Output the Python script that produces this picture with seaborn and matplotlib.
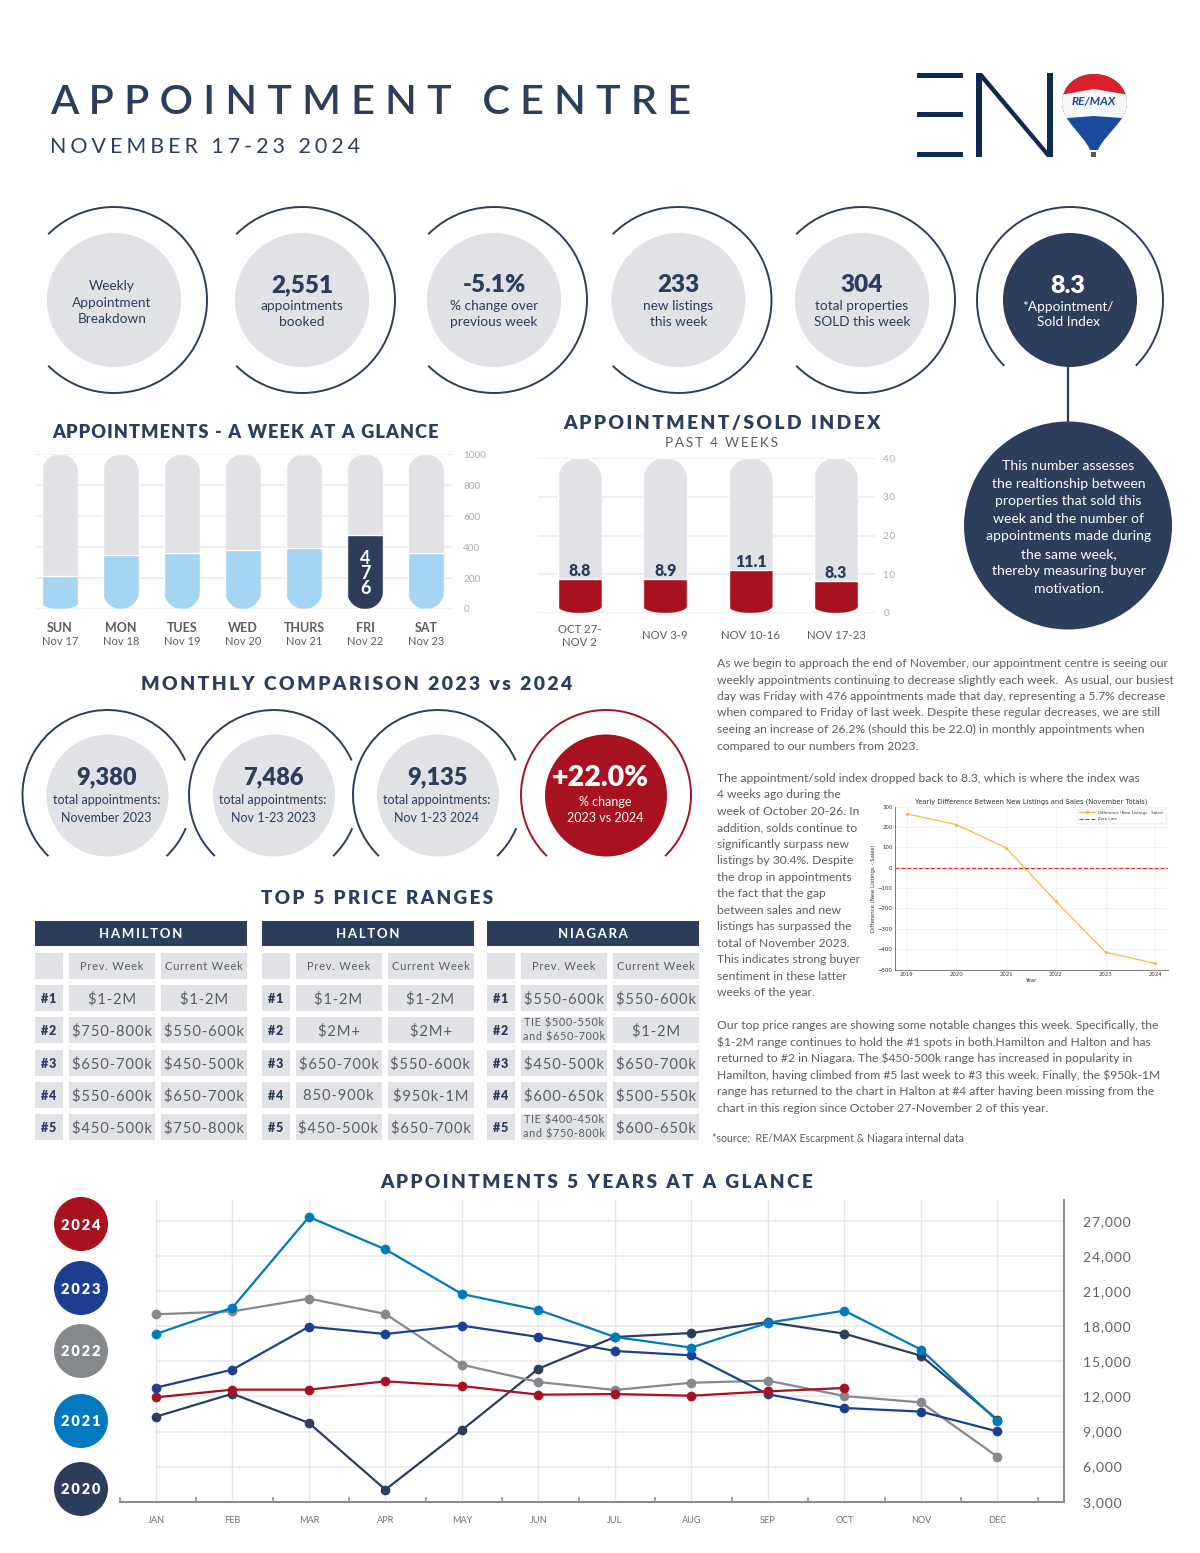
import numpy as np
import pandas as pd
import seaborn as sns
import matplotlib.pyplot as plt
from matplotlib.patches import Arc, Circle, Polygon, Rectangle, PathPatch
from matplotlib.path import Path

# Data

week_days = ['SUN', 'MON', 'TUES', 'WED', 'THURS', 'FRI', 'SAT']
week_dates = ['Nov 17', 'Nov 18', 'Nov 19', 'Nov 20', 'Nov 21', 'Nov 22', 'Nov 23']
week_appts = [213, 349, 364, 384, 392, 476, 362]
week_scale = [1000] * 7
week_ticks = [0, 200, 400, 600, 800, 1000]

index_weeks = ['OCT 27-\nNOV 2', 'NOV 3-9', 'NOV 10-16', 'NOV 17-23']
index_vals = [8.8, 8.9, 11.1, 8.3]
index_scale = [40] * 4
index_ticks = [0, 10, 20, 30, 40]

months = ['JAN', 'FEB', 'MAR', 'APR', 'MAY', 'JUN', 'JUL', 'AUG', 'SEP', 'OCT', 'NOV', 'DEC']
appts_2020 = [10270, 12230, 9730, 4030, 9130, 14370, 17080, 17420, 18360, 17360, 15480, 10010]
appts_2021 = [17335, 19590, 27340, 24570, 20750, 19390, 17080, 16170, 18300, 19330, 16000, 9900]
appts_2022 = [19020, 19270, 20360, 19050, 14710, 13230, 12550, 13170, 13350, 12030, 11490, 6850]
appts_2023 = [12750, 14290, 17960, 17335, 18050, 17080, 15880, 15510, 12180, 11010, 10700, 9010]
appts_2024 = [11920, 12580, 12580, 13290, 12890, 12150, 12200, 12060, 12430, 12720]
year_ticks = [3000, 6000, 9000, 12000, 15000, 18000, 21000, 24000, 27000]

diff_years = [2019, 2020, 2021, 2022, 2023, 2024]
diff_vals = [265, 212, 98, -165, -415, -470]

table_regions = ['HAMILTON', 'HALTON', 'NIAGARA']
table_prev = [
    ['$1-2M', '$750-800k', '$650-700k', '$550-600k', '$450-500k'],
    ['$1-2M', '$2M+', '$650-700k', '850-900k', '$450-500k'],
    ['$550-600k', 'TIE $500-550k\nand $650-700k', '$450-500k', '$600-650k', 'TIE $400-450k\nand $750-800k'],
]
table_curr = [
    ['$1-2M', '$550-600k', '$450-500k', '$650-700k', '$750-800k'],
    ['$1-2M', '$2M+', '$550-600k', '$950k-1M', '$650-700k'],
    ['$550-600k', '$1-2M', '$650-700k', '$500-550k', '$600-650k'],
]

para_1 = [
    'As we begin to approach the end of November, our appointment centre is seeing our',
    'weekly appointments continuing to decrease slightly each week.  As usual, our busiest',
    'day was Friday with 476 appointments made that day, representing a 5.7% decrease',
    'when compared to Friday of last week. Despite these regular decreases, we are still',
    'seeing an increase of 26.2% (should this be 22.0) in monthly appointments when',
    'compared to our numbers from 2023.',
]
para_2 = [
    'The appointment/sold index dropped back to 8.3, which is where the index was',
    '4 weeks ago during the',
    'week of October 20-26. In',
    'addition, solds continue to',
    'significantly surpass new',
    'listings by 30.4%. Despite',
    'the drop in appointments',
    'the fact that the gap',
    'between sales and new',
    'listings has surpassed the',
    'total of November 2023.',
    'This indicates strong buyer',
    'sentiment in these latter',
    'weeks of the year.',
]
para_3 = [
    'Our top price ranges are showing some notable changes this week. Specifically, the',
    '$1-2M range continues to hold the #1 spots in both.Hamilton and Halton and has',
    'returned to #2 in Niagara. The $450-500k range has increased in popularity in',
    'Hamilton, having climbed from #5 last week to #3 this week. Finally, the $950k-1M',
    'range has returned to the chart in Halton at #4 after having been missing from the',
    'chart in this region since October 27-November 2 of this year.',
]
motivation = [
    'This number assesses', 'the realtionship between', 'properties that sold this',
    'week and the number of', 'appointments made during', 'the same week,',
    'thereby measuring buyer', 'motivation.',
]

# Colours

NAVY = '#2d3e5c'
PALE = '#e0e2e6'
RED = '#a8111f'
SKY = '#a5d5f2'
GRID = '#eef0f2'
TEXT = '#5a5d63'
LOGO = '#0f2a52'
year_colors = {'2020': NAVY, '2021': '#0079bf', '2022': '#85898d', '2023': '#1c3f94', '2024': RED}

THIN = '\u2009'
HAIR = '\u200a'

sns.set_theme(style='white')
plt.rcParams['font.family'] = ['Lato', 'DejaVu Sans']

W, H = 1200, 1553
fig = plt.figure(figsize=(W / 100, H / 100), dpi=100, facecolor='white')

# Page layer in pixel coordinates

page = fig.add_axes([0, 0, 1, 1])
page.set_xlim(0, W)
page.set_ylim(H, 0)
page.axis('off')


def axes_px(left, top, right, bottom):
    ax = fig.add_axes([left / W, 1 - bottom / H, (right - left) / W, (bottom - top) / H])
    ax.patch.set_alpha(0)
    return ax


def say(x, y, s, size=10, color=TEXT, weight='normal', ha='center', **kw):
    return page.text(x, y + 1, s, fontsize=size, color=color, weight=weight, ha=ha, va='center',
                     parse_math=False, **kw)


def spaced(s, sep=THIN):
    return sep.join(s)


def heading(x0, x1, y, s, sep=THIN, weight='heavy', color=NAVY, size=13):
    # scale the tracked text so it fills the same width as the original
    t = say(x0, y, spaced(s, sep), size=size, color=color, weight=weight, ha='left')
    for _ in range(2):
        w = t.get_window_extent(fig.canvas.get_renderer()).width
        t.set_fontsize(t.get_fontsize() * (x1 - x0) / w)
    return t


def arc(cx, cy, r, a1, a2, color=NAVY, lw=1.4):
    # angles read the usual way on screen, y axis of the page runs downward
    page.add_patch(Arc((cx, cy), 2 * r, 2 * r, theta1=-a2, theta2=-a1, color=color, lw=lw))


def disc(cx, cy, r, color=PALE):
    page.add_patch(Circle((cx, cy), r, color=color, lw=0))


def pill_clip(ax, bar, top, r_bottom_px):
    # capsule clip for one seaborn bar, round top and softer bottom
    x0, w = bar.get_x(), bar.get_width()
    pts = ax.transData.transform([(x0, 0), (x0 + w, 1)])
    px_w = pts[1, 0] - pts[0, 0]
    per_px = 1 / (pts[1, 1] - pts[0, 1])
    ry_top = px_w / 2 * per_px
    ry_bot = r_bottom_px * per_px
    t = np.linspace(0, np.pi, 40)
    xs = np.r_[x0 + w / 2 + w / 2 * np.cos(t), x0 + w / 2 + w / 2 * np.cos(t + np.pi)]
    ys = np.r_[top - ry_top + ry_top * np.sin(t), ry_bot + ry_bot * np.sin(t + np.pi)]
    clip = Polygon(np.c_[xs, ys], transform=ax.transData)
    bar.set_clip_path(clip)


# Header

heading(50, 692, 101, 'APPOINTMENT CENTRE', sep=THIN + THIN, weight='semibold', size=28)
heading(50, 360, 146, 'NOVEMBER 17-23 2024', sep=THIN + HAIR, weight='normal', size=15)

# Logo

for y in [75.8, 114.5, 154.5]:
    page.add_patch(Rectangle((917, y - 2.5), 46, 5, color=LOGO, lw=0))
page.add_patch(Rectangle((976, 73), 5.5, 84, color=LOGO, lw=0))
page.add_patch(Rectangle((1047, 73), 5.5, 84, color=LOGO, lw=0))
page.add_patch(Polygon([(976, 73), (982, 73), (1052.5, 157), (1047, 157)], color=LOGO, lw=0))
balloon = Path(
    [(1094, 74), (1112, 74), (1127, 86), (1127, 103), (1127, 121), (1104, 135), (1098, 150),
     (1090, 150), (1084, 135), (1062, 121), (1062, 103), (1062, 86), (1076, 74), (1094, 74)],
    [Path.MOVETO] + [Path.CURVE4] * 6 + [Path.LINETO] + [Path.CURVE4] * 6)
page.add_patch(PathPatch(balloon, color='#1c4a9c', lw=0))
white = Polygon([(1055, 88), (1094, 88), (1135, 88), (1135, 119), (1094, 116), (1055, 119)], color='#f6f7f9', lw=0)
page.add_patch(white)
white.set_clip_path(PathPatch(balloon, transform=page.transData))
top_red = Polygon([(1055, 70), (1135, 70), (1135, 96), (1094, 89), (1055, 96)], color='#d8202f', lw=0)
page.add_patch(top_red)
top_red.set_clip_path(PathPatch(balloon, transform=page.transData))
say(1094, 101, 'RE/MAX', size=8.6, color='#1c4a9c', weight='bold', style='italic')
page.add_patch(Rectangle((1091, 152), 5, 5, color='#555555', lw=0))

# Top row of circles

kpis = [
    (114, None, ['Weekly', 'Appointment', 'Breakdown']),
    (302, '2,551', ['appointments', 'booked']),
    (494, '-5.1%', ['% change over', 'previous week']),
    (678.5, '233', ['new listings', 'this week']),
    (862, '304', ['total properties', 'SOLD this week']),
]
for cx, big, lines in kpis:
    disc(cx, 300, 67)
    arc(cx, 300, 93, -135, 135)
    if big is None:
        for y, s in zip([285, 302, 318], lines):
            say(cx - 2, y, s, size=9.8, color=NAVY)
    else:
        say(cx, 284, big, size=17.5, color=NAVY, weight='heavy')
        for y, s in zip([305, 321], lines):
            say(cx, y, s, size=9.8, color=NAVY)

disc(1070, 300, 67, NAVY)
arc(1070, 300, 93, -45, 225)
say(1068, 285, '8.3', size=18, color='white', weight='heavy')
say(1068, 306, '*Appointment/', size=9.8, color='white')
say(1068, 321, 'Sold Index', size=9.8, color='white')
page.plot([1068, 1068], [366, 424], color=NAVY, lw=1.6)
disc(1068, 525.5, 104, NAVY)
for y, s in zip(np.linspace(465, 588, len(motivation)), motivation):
    say(1068.5, y, s, size=10.1, color='white')

# Week at a glance

heading(52, 438, 431, 'APPOINTMENTS - A WEEK AT A GLANCE', sep=HAIR)

ax = axes_px(35, 454.3, 453, 609)
sns.barplot(x=week_days, y=week_scale, color=PALE, saturation=1, width=0.59, ax=ax)
sns.barplot(x=week_days, y=week_appts, hue=week_days, legend=False, saturation=1, width=0.59,
            palette=[NAVY if v == max(week_appts) else SKY for v in week_appts], ax=ax)
ax.set_xlim(-0.41, 6.44)
ax.set_ylim(0, 1000)
ax.set_yticks(week_ticks)
ax.yaxis.tick_right()
ax.tick_params(axis='y', length=0, pad=7.5, labelsize=7.2, labelcolor='#a9abaf')
ax.tick_params(axis='x', length=0, pad=9.5, labelsize=9, labelcolor=TEXT)
for lab in ax.get_xticklabels():
    lab.set_fontweight('bold')
ax.yaxis.grid(True, color=GRID, lw=1.5)
ax.set_axisbelow(True)
sns.despine(ax=ax, left=True, right=True, top=True, bottom=True)
for i, bar in enumerate(ax.patches):
    pill_clip(ax, bar, 1000, 6 if i % 7 == 0 else 18)
for i, d in enumerate(week_dates):
    ax.annotate(d, (i, 0), xycoords=('data', 'axes fraction'), xytext=(0, -23.3), textcoords='offset points',
                ha='center', va='center', fontsize=8, color=TEXT)
ax.text(5, 230, '4\n7\n6', ha='center', va='center', color='white', weight='bold', fontsize=13,
        linespacing=0.85)

# Appointment/Sold index

heading(563, 880, 423, 'APPOINTMENT/SOLD INDEX', sep=THIN)
heading(665, 778, 442, 'PAST 4 WEEKS', sep=THIN, weight='normal', size=9, color=TEXT)

ax = axes_px(538, 458, 875, 613)
sns.barplot(x=index_weeks, y=index_scale, color=PALE, saturation=1, width=0.515, ax=ax)
sns.barplot(x=index_weeks, y=index_vals, color=RED, saturation=1, width=0.515, ax=ax)
ax.set_xlim(-0.49, 3.457)
ax.set_ylim(0, 40)
ax.set_yticks(index_ticks)
ax.set_yticklabels([spaced(str(v), HAIR) for v in index_ticks])
ax.yaxis.tick_right()
ax.tick_params(axis='y', length=0, pad=6, labelsize=7.2, labelcolor='#a9abaf')
ax.tick_params(axis='x', length=0, pad=16.5, labelsize=8.2, labelcolor=TEXT)
for lab in ax.get_xticklabels():
    lab.set_verticalalignment('center')
ax.yaxis.grid(True, color=GRID, lw=1.5)
ax.set_axisbelow(True)
sns.despine(ax=ax, left=True, right=True, top=True, bottom=True)
for i, bar in enumerate(ax.patches):
    pill_clip(ax, bar, 40, 7)
ax.bar_label(ax.containers[-1], labels=[f'{v:.1f}' for v in index_vals], padding=0, color=NAVY,
             weight='heavy', fontsize=11.5)

# Monthly comparison

heading(141, 572, 683, 'MONTHLY COMPARISON 2023 vs 2024', sep=THIN)

monthly = [
    (107.5, '9,380', 'total appointments:', 'November 2023'),
    (274, '7,486', 'total appointments:', 'Nov 1-23 2023'),
    (438, '9,135', 'total appointments:', 'Nov 1-23 2024'),
]
for cx, big, l1, l2 in monthly:
    disc(cx, 795.5, 61)
    arc(cx, 795, 85, 24, 226)
    arc(cx, 795, 85, -46, -23)
    say(cx - 1, 776, big, size=17, color=NAVY, weight='heavy')
    say(cx - 1, 799.5, l1, size=9, color=NAVY)
    say(cx - 1, 816.5, l2, size=9, color=NAVY)
disc(606, 795.5, 61, RED)
arc(606, 795, 85, -46, 226, color=RED)
say(600, 777, '+22.0%', size=20.5, color='white', weight='heavy')
say(605, 801, '% change', size=9, color='white')
say(605, 817, '2023 vs 2024', size=9, color='white')

# Top 5 price ranges

heading(261, 492, 898, 'TOP 5 PRICE RANGES', sep=THIN)

row_tops = [953, 985, 1017, 1050, 1082, 1114]
for left, region, prev, curr in zip([35, 261.5, 487], table_regions, table_prev, table_curr):
    page.add_patch(Rectangle((left, 921), 212, 25, color=NAVY, lw=0))
    say(left + 106, 933, spaced(region), size=9.5, color='white', weight='bold')
    for r, top in enumerate(row_tops):
        for x, w in [(left, 28), (left + 34, 86), (left + 126, 86)]:
            page.add_patch(Rectangle((x, top), w, 26, color=PALE, lw=0))
        mid = top + 13
        if r == 0:
            say(left + 77, mid - 1, spaced('Prev. Week', HAIR), size=8, color=TEXT)
            say(left + 169, mid - 1, spaced('Current Week', HAIR), size=8, color=TEXT)
            continue
        say(left + 14, mid, spaced(f'#{r}', HAIR), size=9, color=NAVY, weight='heavy')
        p, c = prev[r - 1], curr[r - 1]
        if '\n' in p:
            a, b = p.split('\n')
            say(left + 77, mid - 8, spaced(a, HAIR), size=7.8)
            say(left + 77, mid + 6, spaced(b, HAIR), size=7.8)
        else:
            say(left + 77, mid, spaced(p, HAIR), size=10.6)
        say(left + 169, mid, spaced(c, HAIR), size=10.6)

# Body text

for y, s in zip(np.linspace(662.5, 745, len(para_1)), para_1):
    say(717, y, s, size=8.75, ha='left')
for y, s in zip(np.linspace(777.5, 991.5, len(para_2)), para_2):
    say(717, y, s, size=8.75, ha='left')
for y, s in zip(np.linspace(1024.5, 1107, len(para_3)), para_3):
    say(717, y, s, size=8.75, ha='left')
say(712, 1138, '*source:  RE/MAX Escarpment & Niagara internal data', size=7.6, ha='left')

# Inset line chart

ax = axes_px(894.7, 806.7, 1167.7, 969.5)
sns.lineplot(x=diff_years, y=diff_vals, color='#f6b845', marker='o', markersize=2.4, markeredgewidth=0, lw=0.9,
             label='Difference (New Listings - Sales)', ax=ax)
ax.axhline(0, color='#d9302f', ls='--', lw=0.8, label='Zero Line')
ax.set_xlim(2018.76, 2024.25)
ax.set_ylim(-500, 300)
ax.set_xticks(diff_years)
ax.set_yticks(range(-500, 301, 100))
ax.grid(True, color='#eeeeee', lw=0.5)
ax.tick_params(labelsize=3.9, length=0, pad=1.5, labelcolor='#333333', labelfontfamily='DejaVu Sans')
ax.set_title('Yearly Difference Between New Listings and Sales (November Totals)', fontsize=4.9, pad=2.5,
             color='#333333', family='DejaVu Sans')
ax.set_xlabel('Year', fontsize=3.9, labelpad=1, color='#333333', family='DejaVu Sans')
ax.set_ylabel('Difference (New Listings - Sales)', fontsize=3.9, labelpad=1, color='#333333', family='DejaVu Sans')
sns.despine(ax=ax)
for s in ['left', 'bottom']:
    ax.spines[s].set_color('#666666')
    ax.spines[s].set_linewidth(0.6)
ax.legend(loc='upper right', prop={'size': 2.9, 'family': 'DejaVu Sans'}, frameon=True, edgecolor='#eeeeee',
          borderpad=0.5, labelspacing=0.6, handlelength=4, labelcolor='#333333')

# Appointments 5 years

heading(380, 811, 1182, 'APPOINTMENTS 5 YEARS AT A GLANCE', sep=THIN)

year_lists = {'2020': appts_2020, '2021': appts_2021, '2022': appts_2022, '2023': appts_2023, '2024': appts_2024}
years_df = pd.concat([pd.DataFrame({'month': range(len(v)), 'appts': v, 'year': y}) for y, v in year_lists.items()])

ax = axes_px(120, 1200, 1064, 1501.7)
order = ['2020', '2022', '2023', '2021', '2024']
sns.lineplot(data=years_df, x='month', y='appts', hue='year', style='year', hue_order=order, style_order=order,
             palette=year_colors, markers=['o'] * 5, dashes=False, markersize=7, markeredgewidth=0, lw=1.6,
             legend=False, ax=ax)
ax.set_xlim(-0.47, 11.87)
ax.set_ylim(3000, 28790)
ax.set_xticks(range(12))
ax.set_xticklabels(months)
ax.set_xticks(np.arange(13) - 0.47, minor=True)
ax.set_yticks(year_ticks)
ax.set_yticklabels([spaced(f'{v:,}', HAIR) for v in year_ticks])
ax.yaxis.tick_right()
ax.tick_params(axis='y', length=0, pad=14, labelsize=10, labelcolor='#5f6166')
ax.tick_params(axis='x', which='major', length=0, pad=10.5, labelsize=6.6, labelcolor='#6f7175')
ax.tick_params(axis='x', which='minor', direction='in', length=3.4, width=1.1, color='#8a8c90', bottom=True)
ax.set_xlabel('')
ax.set_ylabel('')
ax.xaxis.grid(True, color='#e6e7e9', lw=1)
ax.hlines(year_ticks[1:], 0, 11.87, color='#eaebed', lw=1.3, zorder=0)
ax.set_axisbelow(True)
for s in ['top', 'left']:
    ax.spines[s].set_visible(False)
for s in ['bottom', 'right']:
    ax.spines[s].set_color('#8a8c90')
    ax.spines[s].set_linewidth(1.5)

# Year legend

legend_y = {'2024': 1224, '2023': 1288, '2022': 1351, '2021': 1421, '2020': 1489}
for y, ly in legend_y.items():
    disc(81, ly, 27, year_colors[y])
    say(81, ly, spaced(y, THIN), size=10.5, color='white', weight='heavy')

fig.savefig('out.png', dpi=100)
